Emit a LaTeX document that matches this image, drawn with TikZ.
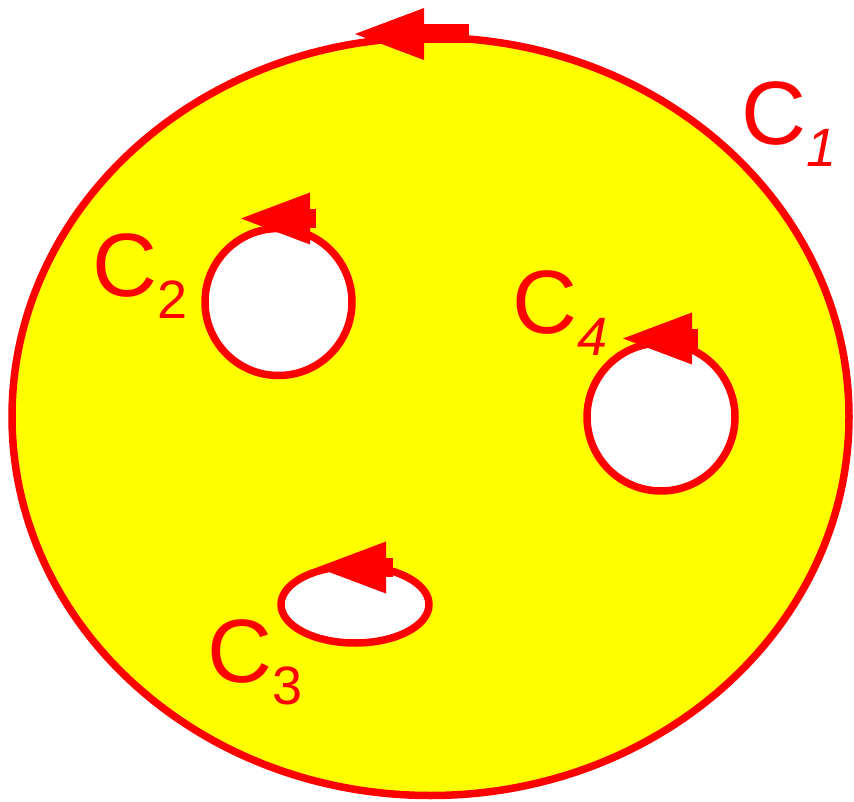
\documentclass[tikz,border=0pt]{standalone}
\usepackage{fontspec}
\setmainfont{Liberation Sans}
\usetikzlibrary{arrows.meta}
\definecolor{regionyellow}{RGB}{255,255,0}
\definecolor{curvered}{RGB}{255,0,0}

\begin{document}
\begin{tikzpicture}[
    x=1pt, y=-1pt,
    curve/.style  ={draw=curvered, line width=7.5pt},
    region/.style ={fill=regionyellow, even odd rule},
    orient/.style ={draw=curvered, line width=19pt,
                    -{Triangle[length=69pt, width=52pt, line width=0pt]}},
    lab/.style    ={text=curvered, inner sep=0pt, anchor=base west,
                    font=\fontsize{90}{90}\selectfont},
]
\newcommand\subup[1]{\raisebox{-22pt}{\fontsize{54}{54}\selectfont #1}}
\newcommand\subit[1]{\raisebox{-22pt}{\fontsize{54}{54}\selectfont\itshape #1}}

\useasboundingbox[fill=white] (0,0) rectangle (854,802);

% ============================================================
% REGION — outer curve with three holes
% ============================================================
\fill[region]
    (430.5,416.5) ellipse [x radius=418.5, y radius=379]
    (278.5,302)   circle  [radius=73.5]
    (661,417)     circle  [radius=74]
    (355,604.5)   ellipse [x radius=74, y radius=38.5];

\draw[curve] (430.5,416.5) ellipse [x radius=418.5, y radius=379];
\draw[curve] (278.5,302)   circle  [radius=73.5];
\draw[curve] (661,417)     circle  [radius=74];
\draw[curve] (355,604.5)   ellipse [x radius=74, y radius=38.5];

% ============================================================
% ORIENTATION ARROWS (all to the left, on top of each curve)
% ============================================================
\coordinate (a1s) at (469,34);    \coordinate (a1e) at (355,34);
\coordinate (a2s) at (316,218.5); \coordinate (a2e) at (241,218.5);
\coordinate (a4s) at (698,338.5); \coordinate (a4e) at (623,338.5);
\coordinate (a3s) at (393,567.5); \coordinate (a3e) at (317,567.5);

\draw[orient] (a1s) -- (a1e);
\draw[orient] (a2s) -- (a2e);
\draw[orient] (a4s) -- (a4e);
\draw[orient] (a3s) -- (a3e);

% ============================================================
% LABELS
% ============================================================
\node[lab] (c1) at (741,145) {C\subit{1}};
\node[lab] (c2) at (92,297)  {C\subup{2}};
\node[lab] (c4) at (512,334) {C\subit{4}};
\node[lab] (c3) at (207,682) {C\subup{3}};

\end{tikzpicture}
\end{document}
